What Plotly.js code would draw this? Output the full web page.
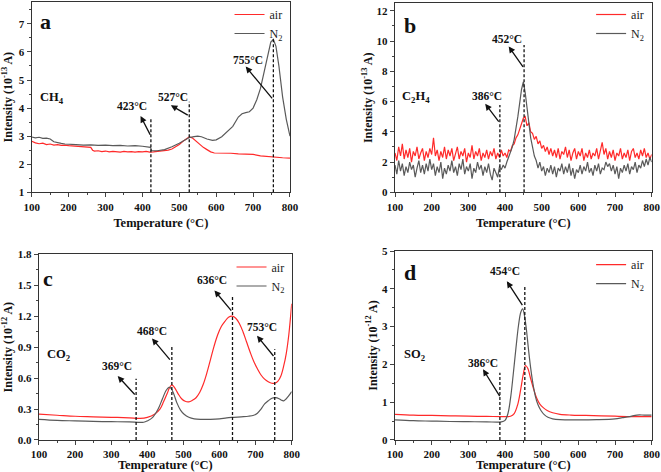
<!DOCTYPE html>
<html><head><meta charset="utf-8">
<script src="https://cdn.plot.ly/plotly-3.0.1.min.js"></script>
<style>html,body{margin:0;padding:0;background:#fff}#chart{width:661px;height:472px}</style>
</head><body><div id="chart"></div>
<script>
// ---------- Panel a : CH4 ----------
const aAirT = [100,110,120,130,140,150,160,170,180,190,200,210,220,230,240,250,260,265,270,280,290,300,310,320,330,340,350,360,370,380,390,400,410,420,430,440,450,460,470,480,490,500,510,520,527,535,545,555,565,575,585,595,610,620,640,660,680,700,720,740,760,780,800];
const aAirI = [2.82,2.76,2.73,2.75,2.70,2.72,2.68,2.70,2.67,2.68,2.66,2.65,2.66,2.63,2.64,2.62,2.60,2.50,2.47,2.48,2.45,2.47,2.44,2.46,2.45,2.43,2.46,2.44,2.45,2.43,2.45,2.44,2.46,2.43,2.44,2.45,2.47,2.48,2.50,2.54,2.61,2.70,2.82,2.92,2.97,2.94,2.82,2.70,2.60,2.52,2.44,2.40,2.40,2.38,2.39,2.37,2.36,2.35,2.30,2.27,2.26,2.23,2.22];
const aN2T = [100,110,120,130,140,150,160,170,180,190,200,220,240,260,280,300,320,340,360,380,400,415,422,425,440,460,480,500,515,527,540,550,560,575,590,600,615,630,645,660,670,680,690,700,710,720,730,740,748,755,762,770,780,790,800];
const aN2I = [2.97,2.94,2.96,2.92,2.93,2.90,2.80,2.76,2.74,2.72,2.72,2.70,2.68,2.69,2.67,2.68,2.66,2.67,2.65,2.66,2.64,2.62,2.60,2.48,2.48,2.52,2.62,2.75,2.87,2.95,2.98,3.00,2.98,2.90,2.85,2.87,2.98,3.15,3.35,3.68,3.80,3.84,3.87,4.00,4.30,4.70,5.30,5.90,6.35,6.45,6.20,5.50,4.40,3.60,3.00];

// ---------- Panel b : C2H4 (every 5 °C from 100 to 800) ----------
const bAirI = [2.6,2.1,3.0,2.4,3.2,2.2,2.8,2.3,2.9,2.0,2.7,2.4,3.0,2.2,2.6,2.9,2.1,2.7,2.3,2.9,
2.5,3.6,2.4,2.8,2.1,2.7,2.3,3.0,2.2,2.8,2.4,2.9,2.1,2.6,3.0,2.2,2.7,2.4,2.9,2.0,
2.6,2.3,3.1,2.2,2.7,2.4,2.9,2.1,2.6,2.3,2.8,2.2,2.7,2.4,2.9,2.2,2.6,2.3,2.8,2.4,
2.6,2.3,2.8,2.7,3.1,3.2,3.6,3.8,4.2,4.5,4.9,5.0,4.4,4.6,4.0,3.9,3.5,3.7,3.2,3.4,
2.9,3.1,2.7,3.0,2.5,2.9,2.4,2.8,2.3,2.9,2.2,2.7,2.5,3.0,2.3,2.8,2.1,2.6,2.9,2.2,
2.7,2.4,2.9,2.1,2.6,2.3,2.8,2.2,2.6,2.4,2.9,2.2,2.7,3.3,2.5,2.9,2.2,2.7,2.3,2.8,
2.1,2.6,2.4,2.9,2.2,2.6,2.3,2.8,2.1,2.7,2.9,2.3,2.6,2.2,2.8,2.4,2.9,2.3,2.6,2.2,2.5];
const bN2I = [1.8,1.2,2.1,1.4,1.9,1.1,1.7,1.3,2.0,1.5,1.8,1.0,1.6,2.1,1.3,1.8,1.2,1.9,1.4,2.2,
1.5,1.9,1.1,1.7,1.3,2.0,0.9,1.6,1.2,1.8,1.4,2.1,1.3,1.7,1.1,1.9,1.5,2.2,1.2,1.7,
1.4,1.9,0.9,1.6,1.3,2.0,1.5,1.8,1.1,1.7,1.3,1.9,1.2,0.8,1.6,1.3,1.0,1.7,1.5,1.8,
1.6,2.0,2.3,2.6,3.0,3.5,4.2,5.0,5.9,6.8,7.3,6.6,5.6,4.4,3.6,3.0,2.4,2.1,1.6,2.0,
1.4,1.7,1.1,1.6,1.3,1.8,1.2,1.7,1.0,1.6,1.4,1.9,1.2,1.7,1.3,1.9,1.1,1.6,0.9,1.5,
1.3,1.8,1.2,1.7,1.4,2.0,1.3,1.6,1.1,1.8,1.4,1.9,1.2,1.6,1.5,2.0,1.7,1.9,1.4,1.8,
1.2,1.7,0.9,1.6,1.3,1.8,1.4,1.9,1.2,1.7,1.5,2.0,1.3,1.8,1.6,2.1,1.7,2.2,1.8,2.3,2.0];

// ---------- Panel c : CO2 ----------
const cAirT = [100,150,200,250,300,350,380,400,420,435,445,455,462,468,475,485,495,505,515,525,535,545,555,565,575,585,595,605,615,625,636,645,655,665,675,685,695,705,715,725,735,745,753,762,770,778,785,792,800];
const cAirI = [0.25,0.24,0.23,0.225,0.22,0.215,0.21,0.22,0.25,0.30,0.37,0.45,0.51,0.535,0.51,0.45,0.40,0.375,0.37,0.385,0.41,0.46,0.54,0.65,0.78,0.91,1.02,1.10,1.15,1.19,1.20,1.18,1.13,1.05,0.95,0.85,0.76,0.69,0.63,0.59,0.565,0.55,0.55,0.57,0.62,0.72,0.84,1.02,1.32];
const cN2T = [100,150,200,250,300,350,390,400,415,430,442,452,460,466,474,482,492,502,515,530,550,575,600,620,640,660,680,695,705,715,725,735,745,755,765,772,778,785,792,800];
const cN2I = [0.20,0.19,0.185,0.18,0.178,0.175,0.172,0.185,0.22,0.30,0.40,0.48,0.51,0.50,0.44,0.36,0.29,0.25,0.22,0.205,0.20,0.20,0.205,0.215,0.22,0.225,0.23,0.24,0.26,0.30,0.35,0.38,0.405,0.41,0.40,0.385,0.38,0.40,0.43,0.47];

// ---------- Panel d : SO2 ----------
const dAirT = [100,150,200,250,300,350,400,415,425,435,443,450,456,462,470,478,486,495,505,515,530,550,580,620,700,750,800];
const dAirI = [0.68,0.66,0.65,0.64,0.63,0.625,0.62,0.63,0.70,0.95,1.35,1.75,1.97,1.90,1.62,1.35,1.12,0.95,0.85,0.78,0.72,0.68,0.66,0.65,0.63,0.62,0.62];
const dN2T = [100,150,200,250,300,350,390,400,408,415,422,430,437,443,448,453,458,464,470,476,483,490,498,507,517,530,550,600,650,700,720,740,760,780,800];
const dN2I = [0.53,0.51,0.50,0.49,0.485,0.48,0.48,0.52,0.70,1.10,1.70,2.45,3.05,3.38,3.47,3.30,2.95,2.40,1.90,1.50,1.15,0.93,0.78,0.67,0.60,0.56,0.54,0.535,0.54,0.56,0.59,0.62,0.66,0.66,0.66];

// ---------- marked temperatures ----------
const aMarks = [423, 527, 755];
const bMarks = [386, 452];
const cMarks = [369, 468, 636, 753];
const dMarks = [386, 454];

const FONT = 'Liberation Serif, Times New Roman, serif';
const RED = '#ff2a2a', GRAY = '#5a5a5a';

function tr(x, y, name, color, ax, leg, show, shape, x0dx) {
  const t = {type:'scatter', mode:'lines', name:name, legend:leg, showlegend:show,
    line:{color:color, width:1.2, shape:shape||'linear'}, y:y,
    xaxis:'x'+(ax===1?'':ax), yaxis:'y'+(ax===1?'':ax)};
  if (x0dx) { t.x0 = x0dx[0]; t.dx = x0dx[1]; } else { t.x = x; }
  return t;
}
const N2 = 'N<sub>2</sub>';
const data = [
  tr(aAirT, aAirI, 'air', RED, 1, 'legend', true),
  tr(aN2T, aN2I, N2, GRAY, 1, 'legend', true),
  tr(null, bAirI, 'air', RED, 2, 'legend2', true, 'linear', [100,5]),
  tr(null, bN2I, N2, GRAY, 2, 'legend2', true, 'linear', [100,5]),
  tr(cAirT, cAirI, 'air', RED, 3, 'legend3', true, 'spline'),
  tr(cN2T, cN2I, N2, GRAY, 3, 'legend3', true, 'spline'),
  tr(dAirT, dAirI, 'air', RED, 4, 'legend4', true, 'spline'),
  tr(dN2T, dN2I, N2, GRAY, 4, 'legend4', true, 'spline'),
];

function xax(dom, anchor) {
  return {domain:dom, anchor:anchor, range:[100,800], dtick:100, tick0:100,
    showline:true, mirror:true, linecolor:'#333', linewidth:1.2, ticks:'outside', ticklen:4, tickwidth:1,
    minor:{dtick:50, ticks:'outside', ticklen:2}, showgrid:false, zeroline:false,
    tickfont:{family:FONT, size:11, weight:'bold', color:'#111'},
    title:{text:'Temperature (°C)', font:{family:FONT, size:12.5, weight:'bold', color:'#111'}, standoff:6}};
}
function yax(dom, anchor, range, dtick, exp, fmt, so) {
  return {domain:dom, anchor:anchor, range:range, dtick:dtick, tick0:0,
    showline:true, mirror:true, linecolor:'#333', linewidth:1.2, ticks:'outside', ticklen:4, tickwidth:1,
    minor:{dtick:dtick/2, ticks:'outside', ticklen:2}, showgrid:false, zeroline:false, tickformat:fmt||'',
    tickfont:{family:FONT, size:11, weight:'bold', color:'#111'},
    title:{text:'Intensity (10<sup>'+exp+'</sup> A)', font:{family:FONT, size:12, weight:'bold', color:'#111'}, standoff:so}};
}
const legBase = {bgcolor:'rgba(0,0,0,0)', font:{family:FONT, size:12, color:'#222'}, itemwidth:30,
  xanchor:'right', yanchor:'top', tracegroupgap:0};

const layout = {
  width:661, height:472, margin:{l:0, r:0, t:0, b:0},
  paper_bgcolor:'#fff', plot_bgcolor:'#fff', showlegend:true,
  xaxis: xax([0.048,0.4387],'y'),
  yaxis: yax([0.5926,0.9958],'x',[1,7.78],1,'-13','',6),
  xaxis2: xax([0.5976,0.9859],'y2'),
  yaxis2: yax([0.5926,0.993],'x2',[0,12.5],2,'-13','',1),
  xaxis3: xax([0.059,0.4413],'y3'),
  yaxis3: yax([0.0678,0.4612],'x3',[0,1.8],0.3,'-12','.1f',3),
  xaxis4: xax([0.5976,0.9859],'y4'),
  yaxis4: yax([0.0678,0.4682],'x4',[0,5],1,'-12','',2),
  legend: Object.assign({}, legBase, {x:0.435, y:1.0}),
  legend2: Object.assign({}, legBase, {x:0.982, y:1.0}),
  legend3: Object.assign({}, legBase, {x:0.438, y:0.465}),
  legend4: Object.assign({}, legBase, {x:0.982, y:0.47}),
  shapes: [], annotations: []
};

function vline(axn, xv, top, bottom) {
  const s = axn===1?'':axn;
  layout.shapes.push({type:'line', xref:'x'+s, yref:'y'+s, x0:xv, x1:xv, y0:bottom, y1:top,
    line:{color:'#111', width:1.3, dash:'3px,2px'}});
}
function arrow(axn, tail, head) {
  const s = axn===1?'':axn;
  layout.annotations.push({xref:'x'+s, yref:'y'+s, axref:'x'+s, ayref:'y'+s,
    x:head[0], y:head[1], ax:tail[0], ay:tail[1], text:'', showarrow:true,
    arrowhead:2, arrowsize:1, arrowwidth:1.3, arrowcolor:'#111'});
}
function label(axn, xy, txt, size) {
  const s = axn===1?'':axn;
  layout.annotations.push({xref:'x'+s, yref:'y'+s, x:xy[0], y:xy[1], text:txt, showarrow:false,
    font:{family:FONT, size:size||11.5, weight:'bold', color:'#111'}});
}

// Panel a
vline(1, aMarks[0], 3.6, 1); vline(1, aMarks[1], 4.23, 1); vline(1, aMarks[2], 6.45, 1);
arrow(1, [aMarks[0], 3.0], [395, 3.72]); label(1, [371, 4.07], aMarks[0]+'°C');
arrow(1, [aMarks[1], 3.72], [477, 4.1]); label(1, [484, 4.38], aMarks[1]+'°C');
arrow(1, [aMarks[2], 4.29], [680, 5.48]); label(1, [687, 5.72], aMarks[2]+'°C');
label(1, [154, 4.35], 'CH<sub>4</sub>', 12.5);
label(1, [136, 7.08], 'a', 22);

// Panel b
vline(2, bMarks[0], 5.78, 0); vline(2, bMarks[1], 9.75, 0);
arrow(2, [bMarks[0], 4.57], [346, 5.85]); label(2, [350, 6.35], bMarks[0]+'°C');
arrow(2, [bMarks[1], 8.2], [410, 9.65]); label(2, [405, 10.15], bMarks[1]+'°C');
label(2, [157, 6.33], 'C<sub>2</sub>H<sub>4</sub>', 12.5);
label(2, [141, 11.0], 'b', 22);

// Panel c
vline(3, cMarks[0], 0.594, 0); vline(3, cMarks[1], 0.91, 0); vline(3, cMarks[2], 1.395, 0); vline(3, cMarks[3], 0.88, 0);
arrow(3, [cMarks[0], 0.426], [318, 0.62]); label(3, [315, 0.72], cMarks[0]+'°C');
arrow(3, [cMarks[1]-2, 0.765], [413, 0.985]); label(3, [412, 1.056], cMarks[1]+'°C');
arrow(3, [cMarks[2], 1.24], [586, 1.45]); label(3, [580, 1.55], cMarks[2]+'°C');
arrow(3, [cMarks[3], 0.80], [704, 1.01]); label(3, [717, 1.10], cMarks[3]+'°C');
label(3, [154, 0.82], 'CO<sub>2</sub>', 12.5);
label(3, [124, 1.57], 'c', 22);

// Panel d
vline(4, dMarks[0], 1.78, 0); vline(4, dMarks[1], 4.09, 0);
arrow(4, [dMarks[0]+2, 1.12], [340, 1.87]); label(4, [341, 2.05], dMarks[0]+'°C');
arrow(4, [dMarks[1]-4, 3.53], [405, 4.2]); label(4, [400, 4.47], dMarks[1]+'°C');
label(4, [152, 2.25], 'SO<sub>2</sub>', 12.5);
label(4, [141, 4.43], 'd', 22);

Plotly.newPlot('chart', data, layout, {staticPlot:true, displayModeBar:false});
</script></body></html>
